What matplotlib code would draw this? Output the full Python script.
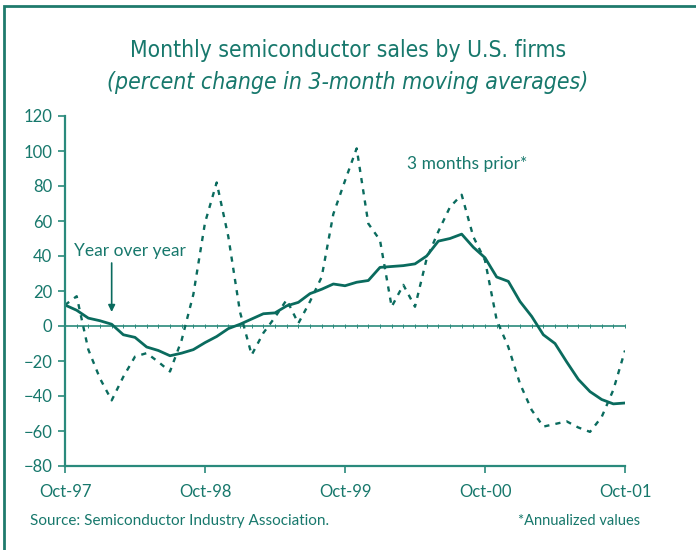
import matplotlib
matplotlib.use("Agg")
import matplotlib.pyplot as plt
from matplotlib import font_manager
from matplotlib.font_manager import FontProperties
from matplotlib.patches import Rectangle

names = {f.name for f in font_manager.fontManager.ttflist}
body = "Lato" if "Lato" in names else "DejaVu Sans"

# look for a condensed / narrow face for the title
cond_reg = None
cond_it = None
for f in font_manager.fontManager.ttflist:
    nm = (f.name + " " + str(f.fname)).lower()
    is_cond = ("narrow" in nm or "condensed" in nm or f.stretch in ("condensed", "semi-condensed"))
    if not is_cond or "bold" in nm or f.weight not in (400, "normal", "regular"):
        continue
    if f.style == "normal" and cond_reg is None:
        cond_reg = f.fname
    if f.style in ("italic", "oblique") and cond_it is None:
        cond_it = f.fname

# Data: months Oct-97 .. Oct-01 (49 months)
year_over_year = [12, 9, 4.5, 3, 1, -5, -6.5, -12, -14, -17, -15.5, -13.5, -9.5,
                  -6, -1.5, 1, 4, 7, 7.5, 11.5, 13.5, 18.5, 21, 24, 23, 25,
                  26, 33.5, 34, 34.5, 35.5, 40, 48.5, 50, 52.5, 45, 39, 28,
                  25.5, 14, 5.5, -5, -10, -20.5, -30.5, -37.5, -42, -44.5, -44]
three_months_prior = [12, 17, -13.5, -30, -42.5, -29, -17.5, -15.5, -20.5, -26, -8,
                      18, 59, 82, 51, 8, -16.5, -4, 5, 15, 1.5, 14, 28, 64,
                      83, 101.5, 58.5, 49, 11, 23.5, 11, 38.5, 54, 68, 75,
                      51, 37.5, 3.5, -12, -33, -48, -57.5, -56, -54.5, -58,
                      -60.5, -52, -36.5, -14]
tick_labels = ["Oct-97", "Oct-98", "Oct-99", "Oct-00", "Oct-01"]
y_ticks = [-80, -60, -40, -20, 0, 20, 40, 60, 80, 100, 120]

months = list(range(len(year_over_year)))
line_c = "#0a6b5e"
text_c = "#17786c"
axis_c = "#2a8a7c"

fig = plt.figure(figsize=(6.96, 5.5), dpi=100)
# outer frame
fig.patches.append(Rectangle((4 / 696, -0.1), 1.2, (1 - 6 / 550) + 0.1,
                             transform=fig.transFigure, fill=False,
                             edgecolor="#1f7a6c", linewidth=2.0))

ax = fig.add_axes([65 / 696, 1 - 466 / 550, 560 / 696, 350 / 550])
ax.plot(months, three_months_prior, color=line_c, lw=1.7, linestyle=(0, (2.2, 2.6)))
ax.plot(months, year_over_year, color=line_c, lw=2.0)
ax.axhline(0, color=axis_c, lw=1.2, zorder=1)
ax.plot(months, [0] * len(months), linestyle="none", marker="|", markersize=3,
        color=axis_c, markeredgewidth=0.7, zorder=1)

ax.set_xlim(0, 48)
ax.set_ylim(-80, 120)
ax.set_yticks(y_ticks)
ax.set_xticks([0, 12, 24, 36, 48])
ax.set_xticklabels(tick_labels)
for s in ["top", "right"]:
    ax.spines[s].set_visible(False)
for s in ["left", "bottom"]:
    ax.spines[s].set_color(axis_c)
    ax.spines[s].set_linewidth(1.6)
ax.tick_params(axis="both", colors=axis_c, labelcolor=text_c, length=5,
               width=1.2, labelsize=12, direction="out")
ax.tick_params(axis="x", pad=8)
ax.tick_params(axis="y", pad=4)
for lab in ax.get_xticklabels() + ax.get_yticklabels():
    lab.set_fontfamily(body)

ax.text(0.8, 43, "Year over year", color=text_c, fontsize=12.5,
        family=body, va="center", ha="left")
ax.annotate("", xy=(4, 8), xytext=(4, 36),
            arrowprops=dict(arrowstyle="-|>", color=line_c, lw=1.2,
                            mutation_scale=10, shrinkA=0, shrinkB=0))
ax.text(29.3, 92.5, "3 months prior*", color=text_c, fontsize=12.5,
        family=body, va="center", ha="left")


def fitted_title(y_px, s, width_px, fname, style, size):
    if fname:
        fp = FontProperties(fname=fname, size=size)
    else:
        fp = FontProperties(family=body, style=style, size=size)
    t = fig.text(0.5, 1 - y_px / 550, s, ha="center", va="center",
                 color=text_c, fontproperties=fp)
    fig.canvas.draw()
    w = t.get_window_extent().width
    if w > 0:
        t.set_fontsize(size * width_px / w)
    return t


fitted_title(50, "Monthly semiconductor sales by U.S. firms", 437, cond_reg, "normal", 20)
fitted_title(82, "(percent change in 3-month moving averages)", 482, cond_it, "italic", 20)

fig.text(30 / 696, 1 - 521 / 550, "Source: Semiconductor Industry Association.",
         ha="left", va="center", color=text_c, fontsize=11, family=body)
fig.text(640 / 696, 1 - 521 / 550, "*Annualized values",
         ha="right", va="center", color=text_c, fontsize=10.5, family=body)

fig.savefig("out.png", dpi=100)
